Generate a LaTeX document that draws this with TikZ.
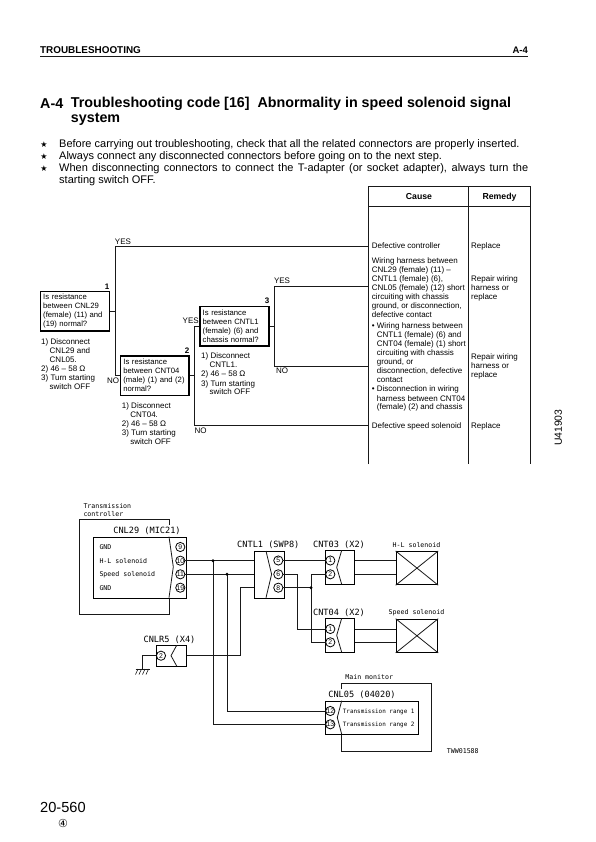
\documentclass[tikz,border=0pt]{standalone}
\usepackage{fontspec}
\setmainfont{Liberation Sans}
\setmonofont{DejaVu Sans Mono}
\newfontfamily\dejavu{DejaVu Sans}
\newcommand{\fsz}[2]{\fontsize{#1}{#2}\selectfont}
\newcommand{\ind}{\hspace*{8.5pt}}
\newcommand{\bul}{\hspace*{5pt}}
\begin{document}
\begin{tikzpicture}[x=1pt,y=-1pt,line join=miter,
  wire/.style={line width=0.9pt,black!90},
  thin line/.style={line width=0.8pt,black!90},
  flow/.style={line width=1pt,black!90},
  qbox/.style={draw=black,line width=1.1pt,inner xsep=2.7pt,inner ysep=0pt,align=left,font=\fsz{7.7}{9},anchor=center},
  txt/.style={inner sep=0pt,anchor=north west,align=left,font=\fsz{8}{9},text=black},
  cen/.style={inner sep=0pt,anchor=center,font=\fsz{8}{9},text=black},
  num/.style={inner sep=0pt,anchor=center,font=\bfseries\fsz{8}{9},text=black},
  monoS/.style={inner sep=0pt,anchor=center,font=\ttfamily\fsz{6.6}{8},text=black},
  monoL/.style={inner sep=0pt,anchor=center,font=\ttfamily\fsz{8.6}{10},text=black},
  monoR/.style={inner sep=0pt,anchor=west,font=\ttfamily\fsz{5.95}{8},text=black},
  pin/.style={circle,draw=black,line width=0.8pt,inner sep=0pt,minimum size=9.2pt,font=\fsz{6.8}{7},fill=white},
  conn/.style={draw=black,line width=0.9pt,inner sep=0pt,anchor=north west},
  star/.style={inner sep=0pt,anchor=center,font=\dejavu\fsz{8}{9}},
  para/.style={inner sep=0pt,anchor=west,font=\fsz{11}{12},text=black}]
\useasboundingbox (0,0) rectangle (595,842);
\fill[white] (0,0) rectangle (595,842);

% header
\node[inner sep=0pt,anchor=west,font=\bfseries\fsz{9.9}{10}] (hd) at (40,50) {TROUBLESHOOTING};
\node[inner sep=0pt,anchor=east,font=\bfseries\fsz{9.5}{10}] (hdr) at (528,50) {A-4};
\draw[line width=1.1pt,black!90] (40,56.7) -- (528,56.7);

% title
\node[inner sep=0pt,anchor=west,font=\bfseries\fsz{14.3}{15}] (t0) at (40,104) {A-4};
\node[inner sep=0pt,anchor=west,font=\bfseries\fsz{14.3}{15}] (t1) at (70.7,104) {Troubleshooting code [16]\hspace{4pt} Abnormality in speed solenoid signal};
\node[inner sep=0pt,anchor=west,font=\bfseries\fsz{14.3}{15}] (t2) at (70.7,119.3) {system};

% notes
\node[star] (s1) at (44,144.3) {★};
\node[star] (s2) at (44,156.7) {★};
\node[star] (s3) at (44,168.3) {★};
\node[para] (n1) at (59,144.3) {Before carrying out troubleshooting, check that all the related connectors are properly inserted.};
\node[para] (n2) at (59,156.7) {Always connect any disconnected connectors before going on to the next step.};
\node[para] (n3) at (59,168.3) {\hbox to 469pt{When disconnecting connectors to connect the T-adapter (or socket adapter), always turn the}};
\node[para] (n4) at (59,180.7) {starting switch OFF.};

% table
\coordinate (tl) at (368.7,186.7);
\coordinate (tm) at (468.3,186.7);
\coordinate (tr) at (530.7,186.7);
\draw[line width=1.1pt,black!90] (368.7,464) -- (tl) -- (tr) -- (530.7,464);
\draw[line width=1.1pt,black!90] (tm) -- (468.3,464);
\draw[line width=1.1pt,black!90] (368.7,206.7) -- (530.7,206.7);
\node[inner sep=0pt,font=\bfseries\fsz{8.7}{10}] (cause) at (419,197) {Cause};
\node[inner sep=0pt,font=\bfseries\fsz{8.7}{10}] (remedy) at (499.5,197) {Remedy};

% decision boxes
\node[qbox,text width=63.6pt,minimum height=39.3pt] (q1) at (75,311.35) {Is resistance\\between CNL29\\(female) (11) and\\(19) normal?};
\node[qbox,text width=62.9pt,minimum height=39.3pt] (q2) at (154.85,375.65) {Is resistance\\between CNT04\\(male) (1) and (2)\\normal?};
\node[qbox,text width=63.6pt,minimum height=39.7pt] (q3) at (234.5,326.15) {Is resistance\\between CNTL1\\(female) (6) and\\chassis normal?};
\node[num] (l1) at (107,287) {1};
\node[num] (l2) at (187,350.7) {2};
\node[num] (l3) at (267,301) {3};

% flow junctions and ends
\coordinate (j1) at (115,311.35);
\coordinate (j1y) at (115,246.3);
\coordinate (j1n) at (115,375.65);
\coordinate (j2) at (194.3,375.65);
\coordinate (j2y) at (194.3,326.15);
\coordinate (j2n) at (194.3,425);
\coordinate (j3) at (274.7,326.15);
\coordinate (j3y) at (274.7,286.3);
\coordinate (j3n) at (274.7,366);
\coordinate (e1) at (368.7,246.3);
\coordinate (e2) at (368.7,286.3);
\coordinate (e3) at (368.7,366);
\coordinate (e4) at (368.7,425);
\draw[flow] (q1.east) -- (j1);
\draw[flow] (e1) -- (j1y) -- (j1n) -- (q2.west);
\draw[flow] (q2.east) -- (j2);
\draw[flow] (q3.west) -- (j2y) -- (j2n) -- (e4);
\draw[flow] (q3.east) -- (j3);
\draw[flow] (e2) -- (j3y) -- (j3n) -- (e3);

% yes no
\node[cen] (y1) at (123,241.7) {YES};
\node[cen] (y2) at (190.7,321) {YES};
\node[cen] (y3) at (282,281) {YES};
\node[cen] (no1) at (113,381) {NO};
\node[cen] (no2) at (200.7,431) {NO};
\node[cen] (no3) at (282,371) {NO};

% steps
\node[txt] (st1) at (41,338.3) {1) Disconnect\\\ind CNL29 and\\\ind CNL05.\\2) 46 – 58 Ω\\3) Turn starting\\\ind switch OFF};
\node[txt] (st2) at (121.7,402.7) {1) Disconnect\\\ind CNT04.\\2) 46 – 58 Ω\\3) Turn starting\\\ind switch OFF};
\node[txt] (st3) at (201,353) {1) Disconnect\\\ind CNTL1.\\2) 46 – 58 Ω\\3) Turn starting\\\ind switch OFF};

% causes
\node[txt] (c1) at (371.7,243) {Defective controller};
\node[txt] (c2) at (371.7,257.3) {Wiring harness between\\CNL29 (female) (11) –\\CNTL1 (female) (6),\\CNL05 (female) (12) short\\circuiting with chassis\\ground, or disconnection,\\defective contact};
\node[txt] (c3) at (371.7,323) {• Wiring harness between\\\bul CNTL1 (female) (6) and\\\bul CNT04 (female) (1) short\\\bul circuiting with chassis\\\bul ground, or\\\bul disconnection, defective\\\bul contact\\• Disconnection in wiring\\\bul harness between CNT04\\\bul (female) (2) and chassis};
\node[txt] (c4) at (371.7,422) {Defective speed solenoid};
\node[txt] (r1) at (471,243) {Replace};
\node[txt] (r2) at (471,275.3) {Repair wiring\\harness or\\replace};
\node[txt] (r3) at (471,353.7) {Repair wiring\\harness or\\replace};
\node[txt] (r4) at (471,422) {Replace};

\node[inner sep=0pt,rotate=90,font=\fsz{10.4}{12},text=black] (code) at (558.3,427.7) {U41903};

% --- wiring diagram ---
\node[monoS,anchor=west] (ctl1) at (83.3,505.7) {Transmission};
\node[monoS,anchor=west] (ctl2) at (83.3,513.7) {controller};
\draw[thin line] (169,525) -- (169,519.3) -- (79.3,519.3) -- (79.3,614.3) -- (169,614.3) -- (169,597.7);
\node[conn,minimum width=92.4pt,minimum height=61pt] (cnl29) at (93.3,536.7) {};
\draw[thin line] (169,536.7) -- (173.3,566.9) -- (169,597.7);
\node[monoL] (cnl29t) at (147,530.7) {CNL29 (MIC21)};
\node[monoS,anchor=west] (g1) at (99.3,547.3) {GND};
\node[monoS,anchor=west] (g2) at (99.3,561) {H-L solenoid};
\node[monoS,anchor=west] (g3) at (99.3,574.6) {Speed solenoid};
\node[monoS,anchor=west] (g4) at (99.3,588) {GND};
\node[pin] (a9) at (180.3,547) {9};
\node[pin] (a10) at (180.3,560.7) {10};
\node[pin] (a11) at (180.3,574.3) {11};
\node[pin] (a19) at (180.3,587.7) {19};

% CNTL1
\node[monoL] (ctlt) at (268.3,544.3) {CNTL1 (SWP8)};
\node[conn,minimum width=30pt,minimum height=46.7pt] (cntl) at (254,551) {};
\draw[thin line] (266,551) -- (271.6,574.3) -- (266,597.7);
\node[pin] (b5) at (278.3,560.5) {5};
\node[pin] (b6) at (278.3,574.3) {6};
\node[pin] (b8) at (278.3,587.7) {8};

% CNT03
\node[monoL] (c03t) at (339,544.3) {CNT03 (X2)};
\node[conn,minimum width=29.6pt,minimum height=34pt] (c03) at (324.7,550.3) {};
\draw[thin line] (341.7,550.3) -- (336.7,567.3) -- (341.7,584.3);
\node[pin] (d1) at (330.3,560.5) {1};
\node[pin] (d2) at (330.3,574.3) {2};

% CNT04
\node[monoL] (c04t) at (339,612.3) {CNT04 (X2)};
\node[conn,minimum width=29.6pt,minimum height=34pt] (c04) at (324.7,618.3) {};
\draw[thin line] (341.7,618.3) -- (336.7,635.3) -- (341.7,652.3);
\node[pin] (e1p) at (330.3,629) {1};
\node[pin] (e2p) at (330.3,642.3) {2};

% solenoids
\node[conn,minimum width=41.6pt,minimum height=33.3pt] (sol1) at (395.7,551) {};
\draw[thin line] (sol1.north west) -- (sol1.south east) (sol1.north east) -- (sol1.south west);
\node[conn,minimum width=41.6pt,minimum height=33.3pt] (sol2) at (395.7,618.7) {};
\draw[thin line] (sol2.north west) -- (sol2.south east) (sol2.north east) -- (sol2.south west);
\node[monoS] (s1t) at (416.5,545) {H-L solenoid};
\node[monoS] (s2t) at (416.5,612.7) {Speed solenoid};

% CNLR5
\node[monoL] (lr5t) at (169.5,639.3) {CNLR5 (X4)};
\node[conn,minimum width=29.7pt,minimum height=20.7pt] (lr5) at (156,645.3) {};
\draw[thin line] (176.7,645.3) -- (171,655.7) -- (176.7,666);
\node[pin] (f2) at (161,655.7) {2};
\coordinate (gnd) at (142.3,669);
\draw[wire] (f2.west) -- (f2.west -| gnd) -- (gnd);
\draw[wire] (135.7,669) -- (150,669);
\foreach \xx in {138,141.5,145,148.5}{\draw[line width=0.6pt,black!90] (\xx,669) -- (\xx-2.5,674.5);}

% CNL05
\node[monoS,anchor=center] (mm) at (369.2,677.3) {Main monitor};
\draw[thin line] (341.7,689) -- (341.7,683) -- (431.7,683) -- (431.7,751.7) -- (341.7,751.7) -- (341.7,734.3);
\node[monoL] (l05t) at (362,694.7) {CNL05 (04020)};
\node[conn,minimum width=93.3pt,minimum height=33.6pt] (l05) at (324.7,700.7) {};
\draw[thin line] (341.7,700.7) -- (337.3,717.5) -- (341.7,734.3);
\node[pin] (h12) at (330.3,711) {12};
\node[pin] (h13) at (330.3,724.3) {13};
\node[monoR] (tr1) at (342.7,711.7) {Transmission range 1};
\node[monoR] (tr2) at (342.7,725) {Transmission range 2};
\node[monoS,anchor=west] (tww) at (446.7,750.7) {TWW01588};

% wires
\coordinate (v1) at (213,560.7);
\coordinate (v2) at (227,574.3);
\coordinate (v3) at (240.5,587.7);
\coordinate (v4) at (297.7,574.3);
\coordinate (v5) at (311,587.7);
\draw[wire] (a10.east) -- (a10.east -| cntl.west);
\draw[wire] (a11.east) -- (a11.east -| cntl.west);
\draw[wire] (b8 -| cntl.west) -- (v3) -- (v3 |- f2) -- (lr5.east |- f2);
\draw[wire] (v1) -- (v1 |- h13) -- (h13.west);
\draw[wire] (v2) -- (v2 |- h12) -- (h12.west);
\draw[wire] (b5.east) -- (d1.west);
\draw[wire] (b6.east) -- (v4) -- (v4 |- e1p) -- (e1p.west);
\draw[wire] (b8.east) -- (v5);
\draw[wire] (d2.west) -- (v5 |- d2) -- (v5 |- e2p) -- (e2p.west);
\fill[black] (v1) circle (1.6pt);
\fill[black] (v2) circle (1.6pt);
\fill[black] (v5) circle (1.6pt);
\draw[wire] (c03.east |- d1) -- (sol1.west |- d1);
\draw[wire] (c03.east |- d2) -- (sol1.west |- d2);
\draw[wire] (c04.east |- e1p) -- (sol2.west |- e1p);
\draw[wire] (c04.east |- e2p) -- (sol2.west |- e2p);

% footer
\node[inner sep=0pt,anchor=west,font=\fsz{14.6}{17},text=black] (pg) at (40,807.3) {20-560};
\node[inner sep=0pt,font=\dejavu\fsz{11}{12},text=black] (rev) at (63,823.7) {④};
\end{tikzpicture}
\end{document}
